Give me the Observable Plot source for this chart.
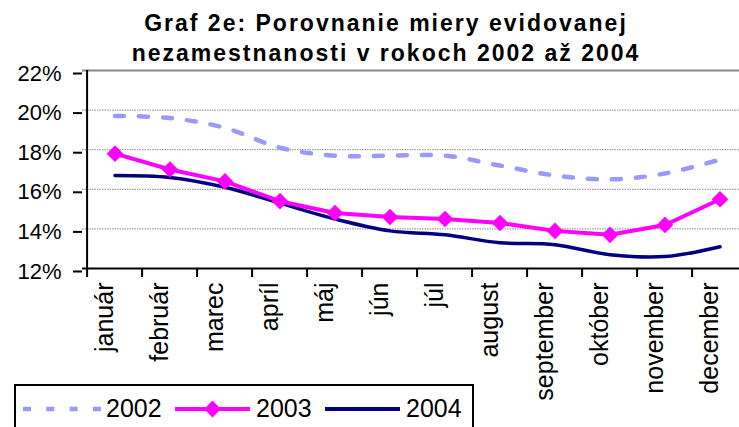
<!DOCTYPE html>
<html>
<head>
<meta charset="utf-8">
<script src="https://cdn.jsdelivr.net/npm/d3@7"></script>
<script src="https://cdn.jsdelivr.net/npm/@observablehq/plot@0.6"></script>
<style>
  html, body { margin: 0; padding: 0; background: #fff; overflow: hidden; }
  #wrap { position: relative; width: 739px; height: 427px; overflow: hidden; font-family: "Liberation Sans", Arial, sans-serif; }
  #title { position: absolute; left: 0; width: 772px; top: 8px; text-align: center; font-weight: bold; font-size: 23px; letter-spacing: 2px; line-height: 30px; color: #000; }
</style>
</head>
<body>
<div id="wrap">
  <div id="chart"></div>
  <div id="title">Graf 2e: Porovnanie miery evidovanej<br>nezamestnanosti v rokoch 2002 až 2004</div>
</div>
<script>
const months = ["január","február","marec","apríl","máj","jún","júl","august","september","október","november","december"];
const y2002 = [19.7,19.6,19.1,18.1,17.7,17.7,17.7,17.2,16.7,16.5,16.8,17.5];
const y2003 = [17.8,17.0,16.4,15.4,14.8,14.6,14.5,14.3,13.9,13.7,14.2,15.5];
const y2004 = [16.7,16.6,16.1,15.3,14.5,13.9,13.7,13.3,13.2,12.7,12.6,13.1];
const years = ["2002","2003","2004"];
const yTicks = [12,14,16,18,20,22];
const colors = ["#9999FF","#FF00FF","#000080"];

const rows = (vals, year) => months.map((m, i) => ({month: m, value: vals[i], year}));
const d2002 = rows(y2002, years[0]);
const d2003 = rows(y2003, years[1]);
const d2004 = rows(y2004, years[2]);

const xRange = [82, 752];
const bw = (xRange[1] - xRange[0]) / months.length;

const chart = Plot.plot({
  width: 739,
  height: 427,
  marginLeft: 82,
  marginRight: 0,
  marginTop: 70,
  marginBottom: 159,
  style: {fontFamily: "'Liberation Sans', Arial, sans-serif", background: "#fff", overflow: "hidden"},
  x: {type: "band", domain: months, range: xRange, padding: 0},
  y: {domain: [12, 22], ticks: yTicks},
  marks: [
    Plot.ruleY(yTicks.slice(1, -1), {stroke: "#888", strokeWidth: 1, strokeDasharray: "1.5 1"}),
    Plot.ruleY([22], {stroke: "#888", strokeWidth: 2}),
    Plot.axisY({ticks: yTicks, tickFormat: d => d + "%", tickSize: 9, tickPadding: 12, stroke: "#000", strokeWidth: 2, fontSize: 22, letterSpacing: 2, color: "#000", dy: 3, label: null}),
    Plot.axisX({tickSize: 0, tickPadding: 14, tickRotate: -90, fontSize: 25, color: "#000", dx: -10, label: null}),
    Plot.ruleX(months, {x: d => d, dx: -bw / 2, y1: 12, y2: 12, stroke: "#000", strokeWidth: 2, insetBottom: -9}),
    Plot.lineY(d2002, {x: "month", y: "value", stroke: colors[0], strokeWidth: 4.5, strokeDasharray: "9 15", curve: "catmull-rom"}),
    Plot.lineY(d2004, {x: "month", y: "value", stroke: colors[2], strokeWidth: 3.5, curve: "catmull-rom"}),
    Plot.lineY(d2003, {x: "month", y: "value", stroke: colors[1], strokeWidth: 4}),
    Plot.dot(d2003, {x: "month", y: "value", symbol: "diamond2", r: 7.5, fill: colors[1], stroke: "none"}),
    Plot.ruleX([12], {x: () => months[0], dx: -bw / 2, y1: 12, y2: 22, stroke: "#000", strokeWidth: 2}),
    Plot.ruleY([12], {stroke: "#000", strokeWidth: 2})
  ]
});
document.getElementById("chart").appendChild(chart);

// Legend
const lg = d3.select("#wrap").append("svg")
  .attr("width", 739).attr("height", 427)
  .style("position", "absolute").style("left", "0px").style("top", "0px");
lg.append("rect").attr("x", 15).attr("y", 385).attr("width", 458).attr("height", 80)
  .attr("fill", "#fff").attr("stroke", "#000").attr("stroke-width", 2);
const items = [
  {x1: 23, x2: 103, tx: 106, dash: "8 15.3"},
  {x1: 175, x2: 250, tx: 256, dash: null},
  {x1: 325, x2: 400, tx: 406, dash: null}
];
items.forEach((it, i) => {
  const l = lg.append("line").attr("x1", it.x1).attr("x2", it.x2).attr("y1", 409).attr("y2", 409)
    .attr("stroke", colors[i]).attr("stroke-width", i === 0 ? 4.5 : 4);
  if (it.dash) l.attr("stroke-dasharray", it.dash);
  if (i === 1) {
    const cx = (it.x1 + it.x2) / 2;
    lg.append("path").attr("d", d3.symbol(d3.symbolDiamond2, 180)()).attr("transform", `translate(${cx},409)`).attr("fill", colors[i]);
  }
  lg.append("text").attr("x", it.tx).attr("y", 417).text(years[i])
    .attr("font-family", "'Liberation Sans', Arial, sans-serif").attr("font-size", 25).attr("fill", "#000");
});
</script>
</body>
</html>
